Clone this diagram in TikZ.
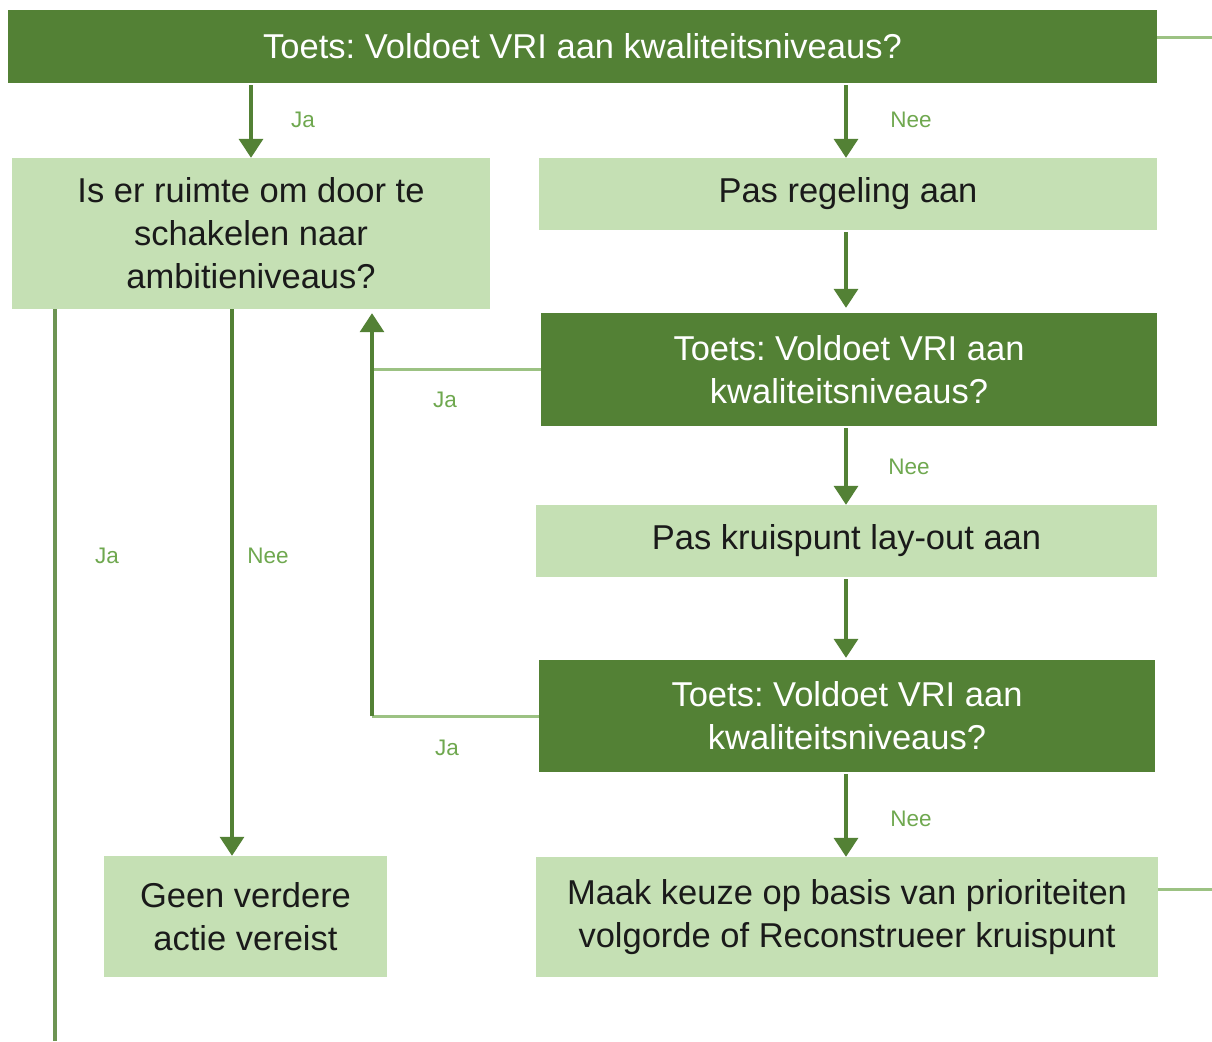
\documentclass[tikz,border=0pt]{standalone}
\usepackage{fontspec}
\setmainfont{Liberation Sans}
\usetikzlibrary{arrows.meta}
\definecolor{dkgreen}{HTML}{538135}
\definecolor{ltgreen}{HTML}{C5E0B4}
\definecolor{lblgreen}{HTML}{6FA84F}
\definecolor{thinline}{HTML}{9CC283}
\definecolor{txtdark}{HTML}{1A1A1A}
\begin{document}
\frenchspacing
\begin{tikzpicture}[x=1pt,y=-1pt,
  darkbox/.style={fill=dkgreen, text=white, font=\fontsize{34.5}{43}\selectfont, align=center, inner sep=0pt},
  lightbox/.style={fill=ltgreen, text=txtdark, font=\fontsize{34.5}{43}\selectfont, align=center, inner sep=0pt},
  arr/.style={draw=dkgreen, line width=3.6pt, -{Triangle[width=24pt,length=19pt]}},
  vline/.style={draw=dkgreen!85!white, line width=3.2pt},
  thinl/.style={draw=thinline, line width=3pt},
  lbl/.style={text=lblgreen, font=\fontsize{22.5}{26}\selectfont, inner sep=0pt}
]
\useasboundingbox (0,0) rectangle (1212,1041);
\fill[white] (0,0) rectangle (1212,1041);

\node[darkbox, minimum width=1149pt, minimum height=73pt] (top) at (582.5,46.5) {Toets: Voldoet VRI aan kwaliteitsniveaus?};
\node[lightbox, minimum width=478pt, minimum height=151pt] (A) at (251,233.5) {Is er ruimte om door te\\schakelen naar\\ambitieniveaus?};
\node[lightbox, minimum width=618pt, minimum height=72pt] (B) at (848,194) {Pas regeling aan};
\node[darkbox, minimum width=616pt, minimum height=113pt] (C) at (849,369.5) {Toets: Voldoet VRI aan\\kwaliteitsniveaus?};
\node[lightbox, minimum width=621pt, minimum height=72pt] (D) at (846.5,541) {Pas kruispunt lay-out aan};
\node[darkbox, minimum width=616pt, minimum height=112pt] (E) at (847,716) {Toets: Voldoet VRI aan\\kwaliteitsniveaus?};
\node[lightbox, minimum width=622pt, minimum height=120pt] (F) at (847,917) {Maak keuze op basis van prioriteiten\\volgorde of Reconstrueer kruispunt};
\node[lightbox, minimum width=283pt, minimum height=121pt] (G) at (245.5,916.5) {Geen verdere\\actie vereist};

\coordinate (col) at (846,0);
\coordinate (cj) at (372,0);
\coordinate (cg) at (232,0);
\coordinate (cl) at (55,0);
\coordinate (bl) at (55,1041);
\coordinate (r1) at (1212,38);
\coordinate (r2) at (1212,889);

% main arrows
\draw[arr, shorten <=2pt] (top.south -| A) -- (A.north);
\draw[arr, shorten <=2pt] (top.south -| col) -- (B.north -| col);
\draw[arr, shorten <=2pt, shorten >=5pt] (B.south -| col) -- (C.north -| col);
\draw[arr, shorten <=2pt] (C.south -| col) -- (D.north -| col);
\draw[arr, shorten <=2pt, shorten >=2pt] (D.south -| col) -- (E.north -| col);
\draw[arr, shorten <=2pt] (E.south -| col) -- (F.north -| col);

% Ja loops back
\draw[thinl] (C.west) -- (C.west -| cj);
\draw[thinl] (E.west) -- (E.west -| cj);
\draw[arr, line width=3.2pt, shorten >=4pt] (E.west -| cj) -- (A.south -| cj);

% from A
\draw[arr, line width=3.2pt] (A.south -| cg) -- (G.north -| cg);
\draw[vline] (A.south -| cl) -- (bl);

% right exits
\draw[thinl] (top.east |- r1) -- (r1);
\draw[thinl] (F.east |- r2) -- (r2);

% labels
\node[lbl] (l1) at (303,120) {Ja};
\node[lbl] (l2) at (911,120) {Nee};
\node[lbl] (l3) at (909,467) {Nee};
\node[lbl] (l4) at (445,400) {Ja};
\node[lbl] (l5) at (447,748) {Ja};
\node[lbl] (l6) at (911,819) {Nee};
\node[lbl] (l7) at (107,556) {Ja};
\node[lbl] (l8) at (268,556) {Nee};
\end{tikzpicture}
\end{document}
